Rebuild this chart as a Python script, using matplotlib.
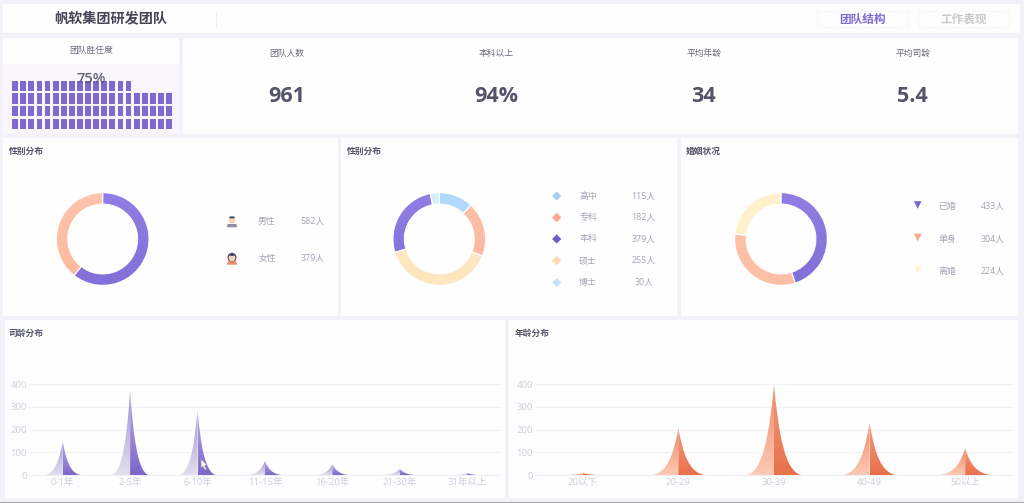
import matplotlib
matplotlib.use('Agg')
import matplotlib.pyplot as plt
import numpy as np
from matplotlib.colors import LinearSegmentedColormap
from matplotlib.patches import Rectangle, Circle, Polygon, PathPatch, Ellipse
from matplotlib.path import Path

plt.rcParams['font.family'] = ['Open Sans', 'Noto Sans CJK SC', 'DejaVu Sans']

W, H = 1024, 503

# data
team_title = '帆软集团研发团队'
tabs = ['团队结构', '工作表现']
score_title = '团队胜任度'
score_pct = 75
score_cols = 20
score_rows = 4
kpi_labels = ['团队人数', '本科以上', '平均年龄', '平均司龄']
kpi_values = ['961', '94%', '34', '5.4']

gender_names = ['男性', '女性']
gender_counts = [582, 379]
edu_names = ['高中', '专科', '本科', '硕士', '博士']
edu_counts = [115, 182, 379, 255, 30]
marriage_names = ['已婚', '单身', '离婚']
marriage_counts = [433, 304, 224]

tenure_names = ['0-1年', '2-5年', '6-10年', '11-15年', '16-20年', '21-30年', '31年以上']
tenure_counts = [150, 370, 285, 62, 48, 28, 10]
age_names = ['20以下', '20-29', '30-39', '40-49', '50以上']
age_counts = [10, 205, 395, 230, 118]
y_ticks = [0, 100, 200, 300, 400]

BG = '#F3F2F8'
PANEL = '#FDFEFD'
PURPLE = ('#917DE3', '#8270D8')
PEACH = ('#FDC5AD', '#FDB89C')
TEXT_DARK = '#46455A'
TEXT_MID = '#6B6A7E'
TEXT_SOFT = '#A6A4B6'
TICK = '#CFCDDC'
GRID = '#F2F1F8'

fig = plt.figure(figsize=(W / 100, H / 100), dpi=100, facecolor=BG)


def px_axes(x0, y0, x1, y1, zorder=2):
    ax = fig.add_axes([x0 / W, 1 - y1 / H, (x1 - x0) / W, (y1 - y0) / H], zorder=zorder)
    ax.patch.set_alpha(0)
    return ax


def fill_gradient(ax, patch, extent, c_top, c_bottom):
    cmap = LinearSegmentedColormap.from_list('g', [c_top, c_bottom])
    grad = np.linspace(0, 1, 64).reshape(-1, 1)
    im = ax.imshow(grad, cmap=cmap, extent=extent, aspect='auto', origin='upper',
                   interpolation='bilinear', zorder=patch.get_zorder())
    im.set_clip_path(patch)
    return im


# page background and cards
bg = px_axes(0, 0, W, H, zorder=0)
bg.set_xlim(0, W)
bg.set_ylim(H, 0)
bg.axis('off')
cards = [(3, 4, 1020, 33), (3, 38, 179, 134), (183, 38, 1018, 134),
         (3, 138, 338, 316), (341, 138, 677, 316), (681, 138, 1018, 316),
         (5, 320, 505, 498), (509, 320, 1018, 498)]
for x0, y0, x1, y1 in cards:
    bg.add_patch(Rectangle((x0, y0), x1 - x0, y1 - y0, fc=PANEL, ec='none'))
bg.add_patch(Rectangle((3, 64), 176, 70, fc='#F8F6FC', ec='none'))
bg.plot([216, 216], [11, 26], color='#EFEEF3', lw=0.8)
bg.plot([0, W], [502, 502], color='#A9A6B5', lw=0.8)

# text and icons on top
top = px_axes(0, 0, W, H, zorder=5)
top.set_xlim(0, W)
top.set_ylim(H, 0)
top.axis('off')


def label(x, y, s, size=6.4, color=TEXT_SOFT, ha='center', weight='normal', alpha=1):
    top.text(x, y, s, fontsize=size, color=color, ha=ha, va='center',
             fontweight=weight, alpha=alpha)


label(110.5, 19.5, team_title, size=10.2, color=TEXT_DARK, weight='bold')
tab_boxes = [(817, 908), (918, 1009)]
tab_colors = ['#8069D4', '#C8C8CC']
for (x0, x1), name, c in zip(tab_boxes, tabs, tab_colors):
    top.add_patch(Rectangle((x0, 11), x1 - x0, 16, fc='none', ec='#F0EFF6', lw=0.6, ls=(0, (2, 2))))
    label((x0 + x1) / 2, 19.5, name, size=8.4, color=c, weight='bold')

label(91, 50.5, score_title, size=6.3, color=TEXT_MID)
label(91.5, 78.5, f'{score_pct}%', size=10.6, color='#55546A', weight='semibold', alpha=0.9)

kpi_x = [287, 496, 704, 912.5]
for x, name, value in zip(kpi_x, kpi_labels, kpi_values):
    label(x, 53, name, size=6.3, color=TEXT_MID)
    label(x, 96, value, size=15.5, color='#54536A', weight='bold')

panel_titles = [(8.5, 151, '性别分布'), (347, 151, '性别分布'), (686, 151, '婚姻状况'),
                (8.5, 333, '司龄分布'), (515, 333, '年龄分布')]
for x, y, s in panel_titles:
    label(x, y, s, size=6.3, color='#55546A', ha='left', weight='bold')

# waffle of the competence score
waffle = px_axes(11.1, 79.4, 173.1, 130.2)
waffle.set_xlim(0, score_cols)
waffle.set_ylim(0, score_rows)
waffle.axis('off')
for row in range(score_rows):
    filled = min(score_cols, score_pct - row * score_cols)
    cols = np.arange(filled) + 0.5
    waffle.bar(cols, np.full(filled, 0.81), width=0.72, bottom=row + 0.09, color='#7F69CF')


# donuts
def donut(cx, cy, values, colors, r=46.3):
    ax = px_axes(cx - r, cy - r, cx + r, cy + r)
    wedges, _ = ax.pie(values, startangle=90, counterclock=False, radius=1,
                       wedgeprops=dict(width=0.245, edgecolor='white', linewidth=0.7))
    for w, (c1, c2) in zip(wedges, colors):
        w.set_zorder(3)
        w.set_facecolor('none')
        fill_gradient(ax, w, (-1, 1, -1, 1), c1, c2)
        w.set_zorder(4)
    ax.set_xlim(-1, 1)
    ax.set_ylim(-1, 1)
    ax.set_aspect('auto')
    ax.axis('off')


donut(102.7, 239, gender_counts, [PURPLE, PEACH])
donut(439.3, 239, edu_counts, [('#AFD8FC', '#CBE7FD'), ('#FDC3AB', '#FDB49A'),
                               ('#FEEAC6', '#FEE6BF'), PURPLE, ('#D6EFFE', '#D6EFFE')])
donut(781, 239, marriage_counts, [PURPLE, ('#FDBFA6', '#FDBFA6'), ('#FFF1CC', '#FFF1CC')])


# legends
def person(x, y, body, hair_long=False):
    if hair_long:
        top.add_patch(Ellipse((x, y - 1.0), 9.0, 9.4, fc='#4B4A62', ec='none'))
    top.add_patch(Polygon([(x - 5, y + 6.2), (x - 4.4, y + 3), (x + 4.4, y + 3), (x + 5, y + 6.2)],
                          fc=body, ec='none'))
    top.add_patch(Circle((x, y - 0.6), 3.4, fc='#F9D2BC', ec='none'))
    top.add_patch(Ellipse((x, y - 3.6), 6.0, 2.2, fc='#4B4A62', ec='none'))


person(232, 221, '#8B8AA3')
person(232, 258.5, '#F0896A', hair_long=True)
for y, name, n in zip([221, 258.5], gender_names, gender_counts):
    label(267, y, name)
    label(312.5, y, f'{n}人')

edu_y = [196, 217.5, 239, 260.5, 282.5]
edu_marks = ['#A8CFF8', '#FBA68E', '#6F5BC4', '#FDD9B0', '#C5E4FC']
top.scatter([556.7] * len(edu_y), edu_y, marker='D', s=22, c=edu_marks, linewidths=0)
for y, name, n in zip(edu_y, edu_names, edu_counts):
    label(588, y, name)
    label(643.7, y, f'{n}人')

mar_y = [206.5, 239, 271.5]
mar_marks = ['#7C66CC', '#FBA68E', '#FFF1D6']
top.scatter([917.7] * len(mar_y), [y - 1.5 for y in mar_y], marker='v', s=30, c=mar_marks, linewidths=0)
for y, name, n in zip(mar_y, marriage_names, marriage_counts):
    label(947, y, name)
    label(992.7, y, f'{n}人')


# spike charts
def spike_half(i, v, side, width):
    # side is -1 for the left half, +1 for the right one
    half = width / 2
    verts = [(i + side * half, 0), (i + side * 0.35 * half, 0), (i + side * 0.15 * half, v * 0.5),
             (i, v), (i, 0), (i + side * half, 0)]
    codes = [Path.MOVETO, Path.CURVE4, Path.CURVE4, Path.CURVE4, Path.LINETO, Path.CLOSEPOLY]
    return Path(verts, codes)


def spike_chart(box, names, values, left_colors, right_colors, width=0.6):
    ax = px_axes(*box, zorder=2)
    for i, v in enumerate(values):
        l = i - width / 2
        r = i + width / 2
        for side, colors, ext in [(-1, left_colors, (l, i, 0, v)), (1, right_colors, (i, r, 0, v))]:
            patch = PathPatch(spike_half(i, v, side, width), fc='none', ec='none', zorder=3)
            ax.add_patch(patch)
            fill_gradient(ax, patch, ext, colors[0], colors[1])
    ax.set_xlim(-0.5, len(names) - 0.5)
    ax.set_ylim(0, 400)
    ax.set_xticks(range(len(names)))
    ax.set_xticklabels(names)
    ax.set_yticks(y_ticks)
    ax.tick_params(length=0, labelsize=6.8, labelcolor=TICK)
    ax.tick_params(axis='x', pad=1.8)
    ax.tick_params(axis='y', pad=1.6)
    ax.grid(axis='y', color=GRID, lw=0.8, zorder=0)
    ax.set_axisbelow(True)
    for side in ['top', 'left', 'right']:
        ax.spines[side].set_visible(False)
    ax.spines['bottom'].set_color(GRID)
    ax.spines['bottom'].set_linewidth(1.0)
    return ax


spike_chart((29, 384, 501, 475.3), tenure_names, tenure_counts,
            ('#9F8FD8', '#E2DFEC'), ('#BBAEE4', '#7D67C8'))
spike_chart((535, 384, 1013, 475.3), age_names, age_counts,
            ('#EE8866', '#FDC9B2'), ('#F29A7E', '#E8714B'), width=0.62)

# mouse pointer caught in the screenshot
top.add_patch(Polygon([(201, 459), (201, 468), (203, 466.5), (205, 470), (206.5, 469), (204.5, 465.5), (207, 465)],
                      fc='white', ec='#8F8F9A', lw=0.5))

fig.savefig('out.png', dpi=100, facecolor=BG)
